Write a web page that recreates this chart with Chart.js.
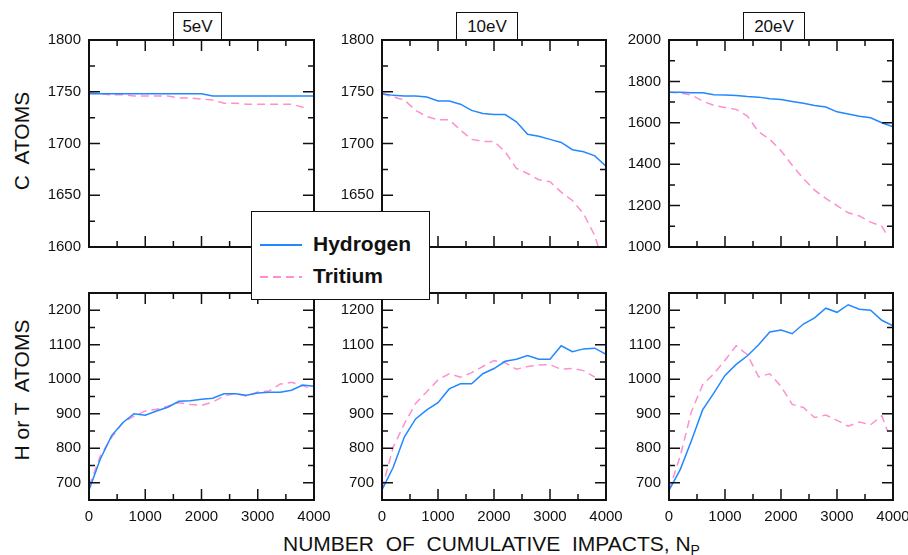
<!DOCTYPE html>
<html>
<head>
<meta charset="utf-8">
<script src="https://cdn.jsdelivr.net/npm/chart.js@4.4.1/dist/chart.umd.min.js"></script>
<style>
  body { margin: 0; background: #fff; width: 908px; height: 555px; position: relative; overflow: hidden;
         font-family: 'Liberation Sans', Arial, sans-serif; color: #111; }
  canvas { position: absolute; }
  .tag { position: absolute; top: 12px; height: 27px; line-height: 28px; border: 1px solid #111; border-bottom: none;
         background: #fff; font-size: 17px; text-align: center; }
  .ytitle { position: absolute; font-size: 21px; white-space: pre; line-height: 24px;
            transform: translate(-50%, -50%) rotate(-90deg); }
  #xtitle { position: absolute; left: 283px; top: 532px; font-size: 21px; white-space: pre; line-height: 24px; }
  #xtitle sub { font-size: 14px; vertical-align: -4px; }
  #legend { position: absolute; left: 251px; top: 211px; width: 177px; height: 87px; border: 1.5px solid #111;
            background: #fff; z-index: 5; }
  #legend svg { position: absolute; left: 8px; }
  #legend span { position: absolute; left: 61px; font-size: 21px; font-weight: bold; line-height: 24px; }
</style>
</head>
<body>

<div class="tag" style="left:173px;width:47px">5eV</div>
<div class="tag" style="left:456px;width:60px">10eV</div>
<div class="tag" style="left:743px;width:60px">20eV</div>

<div class="ytitle" style="left:22px;top:141px">C  ATOMS</div>
<div class="ytitle" style="left:22px;top:390px">H or T  ATOMS</div>
<div id="xtitle">NUMBER  OF  CUMULATIVE  IMPACTS, N<sub>P</sub></div>

<div id="legend">
  <svg width="44" height="4" style="top:31px"><line x1="0" y1="2" x2="42" y2="2" stroke="#2288ff" stroke-width="2"/></svg>
  <span style="top:20px">Hydrogen</span>
  <svg width="44" height="4" style="top:63px"><line x1="0" y1="2" x2="42" y2="2" stroke="#ff8fcf" stroke-width="2" stroke-dasharray="8,5"/></svg>
  <span style="top:52px">Tritium</span>
</div>

<script>
/*========== DU LIEU ==========*/
const impacts = [0, 200, 400, 600, 800, 1000, 1200, 1400, 1600, 1800, 2000,
                 2200, 2400, 2600, 2800, 3000, 3200, 3400, 3600, 3800, 4000];
const tritiumImpacts = [0, 200, 400, 600, 800, 1000, 1200, 1400, 1600, 1800, 2000,
                        2200, 2400, 2600, 2800, 3000, 3200, 3400, 3600, 3800, 3900];

const xTicks = [0, 1000, 2000, 3000, 4000];
const cTicks5 = [1600, 1650, 1700, 1750, 1800];
const cTicks10 = [1600, 1650, 1700, 1750, 1800];
const cTicks20 = [1000, 1200, 1400, 1600, 1800, 2000];
const hTicks = [700, 800, 900, 1000, 1100, 1200];

// C atoms
const hydC5 = [1748, 1748, 1748, 1748, 1748, 1748, 1748, 1748, 1748, 1748, 1748,
               1746, 1746, 1746, 1746, 1746, 1746, 1746, 1746, 1746, 1746];
const triC5 = [1749, 1748, 1747, 1747, 1746, 1746, 1746, 1746, 1744, 1744, 1743,
               1742, 1739, 1739, 1738, 1738, 1738, 1738, 1738, 1735, 1734];
const hydC10 = [1748, 1746.5, 1746, 1746, 1745, 1741, 1741, 1738, 1732, 1729, 1728,
                1728, 1721, 1709, 1707, 1704, 1701, 1694, 1692, 1688, 1678];
const triC10 = [1748, 1745, 1742, 1732, 1726, 1723, 1723, 1713, 1704, 1702, 1702,
                1692, 1676, 1671, 1665, 1663, 1653, 1645, 1632, 1611, 1593];
const hydC20 = [1747, 1747, 1745, 1745, 1735, 1734, 1732, 1727, 1724, 1716, 1713,
                1703, 1694, 1684, 1676, 1653, 1642, 1632, 1624, 1600, 1581];
const triC20 = [1747, 1744, 1734, 1705, 1684, 1674, 1665, 1632, 1556, 1520, 1465,
                1395, 1330, 1275, 1235, 1200, 1165, 1150, 1120, 1100, 1056];

// H or T atoms
const hydH5 = [679, 768, 836, 874, 900, 896, 908, 919, 936, 938, 942,
               945, 958, 958, 954, 960, 962, 962, 968, 983, 980];
const triH5 = [690, 777, 831, 874, 893, 908, 913, 922, 932, 927, 924,
               934, 951, 959, 951, 963, 966, 986, 991, 981, 976];
const hydH10 = [679, 745, 833, 885, 911, 932, 972, 987, 987, 1016, 1031,
                1052, 1058, 1069, 1058, 1058, 1097, 1080, 1088, 1090, 1072];
const triH10 = [682, 803, 871, 930, 964, 998, 1016, 1006, 1019, 1037, 1054,
                1048, 1029, 1037, 1041, 1042, 1029, 1031, 1025, 1006, null];
const hydH20 = [678, 738, 822, 911, 960, 1011, 1043, 1068, 1100, 1137, 1143,
                1132, 1160, 1178, 1206, 1194, 1216, 1203, 1200, 1171, 1155];
const triH20 = [678, 777, 906, 984, 1016, 1055, 1097, 1071, 1007, 1016, 979,
                927, 918, 889, 896, 881, 864, 876, 868, 894, 851];

const blue = '#2288ff';
const pink = '#ff8fcf';

/*========== KHUNG + VACH CHIA HUONG VAO TRONG ==========*/
const framePlugin = {
  id: 'frame',
  afterDatasetsDraw(chart, args, opts) {
    const { ctx, chartArea: a, scales: { x, y } } = chart;
    ctx.save();
    ctx.strokeStyle = '#111';
    ctx.lineWidth = 1.5;
    ctx.beginPath();
    for (let v = x.min; v <= x.max; v += 500) {
      const px = x.getPixelForValue(v);
      const len = v % 1000 === 0 ? 11 : 6;
      ctx.moveTo(px, a.bottom); ctx.lineTo(px, a.bottom - len);
      ctx.moveTo(px, a.top); ctx.lineTo(px, a.top + len);
    }
    for (let v = y.min; v <= y.max; v += opts.yMinor) {
      const py = y.getPixelForValue(v);
      const len = opts.yMajor.includes(v) ? 11 : 6;
      ctx.moveTo(a.left, py); ctx.lineTo(a.left + len, py);
      ctx.moveTo(a.right, py); ctx.lineTo(a.right - len, py);
    }
    ctx.stroke();
    ctx.lineWidth = 2;
    ctx.strokeRect(a.left, a.top, a.right - a.left, a.bottom - a.top);
    ctx.restore();
  }
};

Chart.defaults.font.family = "'Liberation Sans', Arial, sans-serif";
Chart.defaults.color = '#111';

const panels = [
  { left: 89,  top: 40,  w: 225, h: 207, hyd: hydC5,  tri: triC5,  yMin: 1600, yMax: 1800, yTicks: cTicks5,  yMinor: 25,  xLabels: false },
  { left: 382, top: 40,  w: 224, h: 207, hyd: hydC10, tri: triC10, yMin: 1600, yMax: 1800, yTicks: cTicks10, yMinor: 25,  xLabels: false },
  { left: 669, top: 40,  w: 224, h: 207, hyd: hydC20, tri: triC20, yMin: 1000, yMax: 2000, yTicks: cTicks20, yMinor: 100, xLabels: false },
  { left: 89,  top: 293, w: 225, h: 207, hyd: hydH5,  tri: triH5,  yMin: 650,  yMax: 1250, yTicks: hTicks,   yMinor: 50,  xLabels: true },
  { left: 382, top: 293, w: 224, h: 207, hyd: hydH10, tri: triH10, yMin: 650,  yMax: 1250, yTicks: hTicks,   yMinor: 50,  xLabels: true },
  { left: 669, top: 293, w: 224, h: 207, hyd: hydH20, tri: triH20, yMin: 650,  yMax: 1250, yTicks: hTicks,   yMinor: 50,  xLabels: true }
];

function makePanel(p) {
  // padT phai lon hon nua chieu cao nhan + padding, neu khong Chart.js tu day xuong
  const padL = 70, padT = 24, padR = 25, padB = 35;
  const cv = document.createElement('canvas');
  cv.width = p.w + padL + padR;
  cv.height = p.h + padT + padB;
  cv.style.left = (p.left - padL) + 'px';
  cv.style.top = (p.top - padT) + 'px';
  document.body.appendChild(cv);

  new Chart(cv, {
    type: 'line',
    data: {
      datasets: [
        {
          label: 'Hydrogen',
          data: impacts.map((x, i) => ({ x, y: p.hyd[i] })),
          borderColor: blue, borderWidth: 1.5, pointRadius: 0, tension: 0
        },
        {
          label: 'Tritium',
          data: tritiumImpacts.map((x, i) => ({ x, y: p.tri[i] })),
          borderColor: pink, borderWidth: 1.5, borderDash: [8, 5], pointRadius: 0, tension: 0
        }
      ]
    },
    options: {
      responsive: false,
      animation: false,
      events: [],
      layout: { autoPadding: false, padding: { left: 0, top: padT, right: padR, bottom: 0 } },
      plugins: {
        legend: { display: false },
        tooltip: { enabled: false },
        frame: { yMinor: p.yMinor, yMajor: p.yTicks }
      },
      scales: {
        x: {
          type: 'linear', min: 0, max: 4000,
          grid: { display: false, drawTicks: false },
          border: { display: false },
          afterBuildTicks: s => { s.ticks = xTicks.map(v => ({ value: v })); },
          afterFit: s => { s.height = padB; },
          ticks: { display: p.xLabels, padding: 8, maxRotation: 0, autoSkip: false,
                   font: { size: 15 }, callback: v => String(v) }
        },
        y: {
          type: 'linear', min: p.yMin, max: p.yMax,
          grid: { display: false, drawTicks: false },
          border: { display: false },
          afterBuildTicks: s => { s.ticks = p.yTicks.map(v => ({ value: v })); },
          afterFit: s => { s.width = padL; },
          ticks: { padding: 8, autoSkip: false, font: { size: 15 }, callback: v => String(v) }
        }
      }
    },
    plugins: [framePlugin]
  });
}

panels.forEach(makePanel);
</script>
</body>
</html>
